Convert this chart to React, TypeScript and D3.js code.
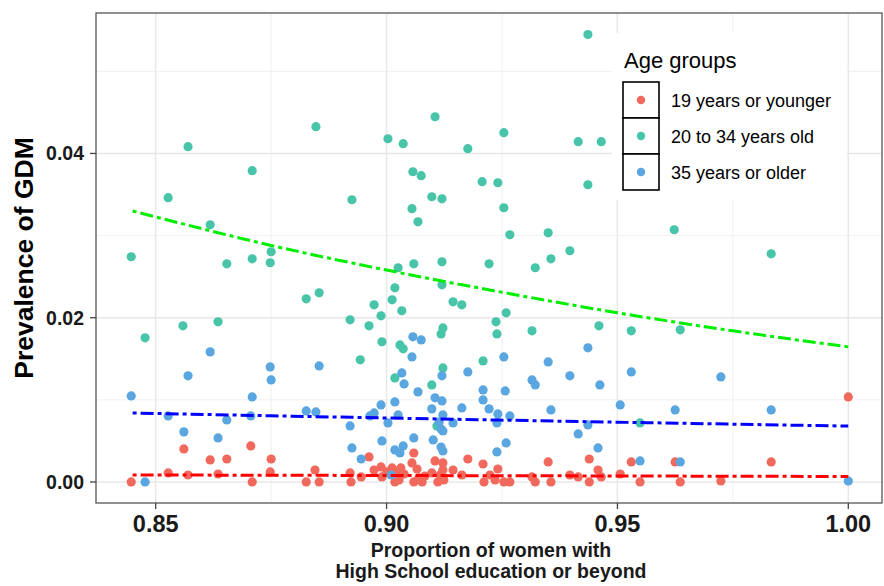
import { useMemo } from 'react';
import * as d3 from 'd3';

// proportion of women with high school education, prevalence of GDM
const age19: [number, number][] = [
  [0.8447, 0], [0.8527, 0.0011], [0.8561, 0.00402], [0.857, 0.00085], [0.8618, 0.00268],
  [0.8635, 0.00097], [0.8654, 0.0028], [0.8706, 0.00439], [0.8709, 0], [0.875, 0.0028],
  [0.8748, 0.00122], [0.8826, 0], [0.8845, 0.00146], [0.8854, 0], [0.8921, 0.0011],
  [0.8923, 0], [0.8945, 0.00061], [0.8962, 0.00305], [0.8973, 0.00146], [0.8988, 0.00183],
  [0.899, 0.00061], [0.9001, 0.00122], [0.9012, 0.00171], [0.9018, 0], [0.9023, 0.00122],
  [0.9027, 0.00024], [0.9031, 0.00171], [0.9038, 0.00097], [0.9055, 0.00232], [0.9059, 0.00353],
  [0.9059, 0], [0.9066, 0.00158], [0.907, 0.00049], [0.9077, 0], [0.9083, 0.00073],
  [0.9098, 0.0011], [0.9105, 0.00256], [0.9111, 0], [0.9116, 0.00085], [0.9122, 0.00232],
  [0.9122, 0.00146], [0.9124, 0.00024], [0.9144, 0.00146], [0.9163, 0.00085], [0.9176, 0.0028],
  [0.9209, 0.00219], [0.9211, 0], [0.9224, 0.00085], [0.9235, 0.00024], [0.9241, 0.00158],
  [0.9254, 0], [0.9267, 0], [0.9315, 0.00061], [0.9322, 0], [0.935, 0.00244],
  [0.9356, 0], [0.9397, 0.00085], [0.9415, 0.00061], [0.9439, 0.0028], [0.9439, 0],
  [0.9458, 0.00146], [0.9465, 0.00061], [0.9506, 0.00097], [0.953, 0.00244], [0.9549, 0],
  [0.9625, 0.00244], [0.9636, 0], [0.9724, 0.00012], [0.9833, 0.00244], [1.0, 0.01036],
];

const age2034: [number, number][] = [
  [0.8447, 0.02742], [0.8477, 0.01755], [0.8527, 0.03461], [0.8559, 0.01901], [0.857, 0.04082],
  [0.8618, 0.03132], [0.8635, 0.0195], [0.8654, 0.02656], [0.8709, 0.0379], [0.8709, 0.02717],
  [0.875, 0.02803], [0.8748, 0.02669], [0.8826, 0.0223], [0.8854, 0.02303], [0.8847, 0.04326],
  [0.8921, 0.01974], [0.8925, 0.03436], [0.8943, 0.01487], [0.8962, 0.01901], [0.8973, 0.02157],
  [0.8988, 0.02023], [0.899, 0.01706], [0.9003, 0.04179], [0.9012, 0.02218], [0.9018, 0.02364],
  [0.9018, 0.01267], [0.9025, 0.02608], [0.9029, 0.01669], [0.9033, 0.02084], [0.9036, 0.04119],
  [0.9036, 0.01621], [0.9055, 0.03327], [0.9057, 0.03777], [0.9059, 0.02656], [0.9068, 0.03168],
  [0.9075, 0.03729], [0.9098, 0.03473], [0.9098, 0.01182], [0.9105, 0.04447], [0.9109, 0.00682],
  [0.9118, 0.01803], [0.912, 0.03448], [0.912, 0.02681], [0.912, 0.024], [0.9122, 0.01876],
  [0.9122, 0.01389], [0.9144, 0.02193], [0.9163, 0.02157], [0.9176, 0.04058], [0.9207, 0.03656],
  [0.9209, 0.01474], [0.9222, 0.02656], [0.9237, 0.0195], [0.9239, 0.01803], [0.9241, 0.03643],
  [0.9254, 0.04253], [0.9254, 0.03339], [0.9259, 0.02059], [0.9267, 0.0301], [0.9315, 0.0184],
  [0.9322, 0.02608], [0.935, 0.03034], [0.9356, 0.02717], [0.9397, 0.02815], [0.9415, 0.04143],
  [0.9436, 0.05447], [0.9436, 0.03619], [0.946, 0.01901], [0.9465, 0.04143], [0.953, 0.0184],
  [0.9549, 0.00719], [0.9623, 0.03071], [0.9636, 0.01852], [0.9833, 0.02778],
];

const age35: [number, number][] = [
  [0.8447, 0.01048], [0.8477, 0], [0.8527, 0.00804], [0.8561, 0.0061], [0.857, 0.01292],
  [0.8618, 0.01584], [0.8635, 0.00536], [0.8654, 0.00755], [0.8709, 0.01036], [0.8706, 0.00804],
  [0.8748, 0.01401], [0.875, 0.01243], [0.8826, 0.00865], [0.8847, 0.00853], [0.8854, 0.01413],
  [0.8921, 0.00682], [0.8925, 0.00414], [0.8945, 0.0028], [0.8964, 0.00804], [0.8973, 0.00841],
  [0.8988, 0.00938], [0.899, 0.005], [0.9003, 0.00719], [0.901, 0.00085], [0.9018, 0.00975],
  [0.9018, 0.0039], [0.9025, 0.00816], [0.9029, 0.00353], [0.9033, 0.01328], [0.9036, 0.00439],
  [0.9038, 0.01194], [0.9055, 0.01523], [0.9057, 0.01767], [0.9059, 0.00536], [0.9068, 0.01097],
  [0.9075, 0.0173], [0.9098, 0.0089], [0.9101, 0.00512], [0.9105, 0.01024], [0.9114, 0.00731],
  [0.9118, 0.00646], [0.9118, 0.00426], [0.912, 0.01292], [0.912, 0.00987], [0.9122, 0.00816],
  [0.9122, 0.00621], [0.9122, 0.00378], [0.9144, 0.00719], [0.9163, 0.00902], [0.9176, 0.0134],
  [0.9209, 0.01121], [0.9209, 0.00999], [0.9222, 0.0089], [0.9239, 0.00719], [0.9239, 0.00366],
  [0.9241, 0.00829], [0.9254, 0.01523], [0.9257, 0.01109], [0.9259, 0.00475], [0.9267, 0.00804],
  [0.9315, 0.01243], [0.9322, 0.01182], [0.935, 0.01462], [0.9356, 0.00877], [0.9397, 0.01292],
  [0.9415, 0.00585], [0.9436, 0.01633], [0.9436, 0.00695], [0.9458, 0.00414], [0.9462, 0.01182],
  [0.9506, 0.00938], [0.953, 0.0134], [0.9549, 0.00256], [0.9625, 0.00877], [0.9636, 0.00244],
  [0.9724, 0.01279], [0.9833, 0.00877], [1.0, 0.00012],
];

// fitted trend lines
const trendX = [0.845, 0.875, 0.9, 0.925, 0.95, 0.975, 1.0];
const trend19 = [0.00085, 0.00082, 0.00079, 0.00076, 0.00073, 0.0007, 0.00067];
const trend2034 = [0.033, 0.0288, 0.0258, 0.0231, 0.0206, 0.0184, 0.01645];
const trend35 = [0.0084, 0.00806, 0.00779, 0.00753, 0.00728, 0.00704, 0.0068];

const xTicks = [0.85, 0.9, 0.95, 1.0];
const xMinor = [0.875, 0.925, 0.975];
const yTicks = [0, 0.02, 0.04];
const yMinor = [0.01, 0.03, 0.05];

const groups = ['19 years or younger', '20 to 34 years old', '35 years or older'];
const pointColors = ['#F0695C', '#48C4A9', '#5AA6E0'];
const lineColors = ['#FF0000', '#00EE00', '#0000FF'];

const W = 884;
const H = 586;
const margin = { top: 13, right: 2, bottom: 83, left: 96 };
const font = "'Liberation Sans', Arial, Helvetica, sans-serif";

export default function App() {
  const x = useMemo(
    () => d3.scaleLinear().domain([0.83707, 1.0073]).range([margin.left, W - margin.right]),
    []
  );
  const y = useMemo(
    () => d3.scaleLinear().domain([-0.00256, 0.0571]).range([H - margin.bottom, margin.top]),
    []
  );

  const series = [age19, age2034, age35];
  const trends = [trend19, trend2034, trend35];
  const line = d3
    .line<number>()
    .x((_, i) => x(trendX[i]))
    .y((d) => y(d))
    .curve(d3.curveMonotoneX);

  const left = margin.left;
  const right = W - margin.right;
  const top = margin.top;
  const bottom = H - margin.bottom;

  return (
    <svg
      width={W}
      height={H}
      style={{ position: 'absolute', left: 0, top: 0, background: '#fff' }}
      fontFamily={font}
    >
      <rect x={0} y={0} width={W} height={H} fill="#fff" />
      {/* grid */}
      <g>
        {xMinor.map((t) => (
          <line key={'xm' + t} x1={x(t)} x2={x(t)} y1={top} y2={bottom} stroke="#f0f0f0" strokeWidth={1} />
        ))}
        {yMinor.map((t) => (
          <line key={'ym' + t} x1={left} x2={right} y1={y(t)} y2={y(t)} stroke="#f0f0f0" strokeWidth={1} />
        ))}
        {xTicks.map((t) => (
          <line key={'xg' + t} x1={x(t)} x2={x(t)} y1={top} y2={bottom} stroke="#e8e8e8" strokeWidth={1.5} />
        ))}
        {yTicks.map((t) => (
          <line key={'yg' + t} x1={left} x2={right} y1={y(t)} y2={y(t)} stroke="#e8e8e8" strokeWidth={1.5} />
        ))}
      </g>

      {/* points */}
      {series.map((pts, gi) => (
        <g key={'s' + gi} fill={pointColors[gi]}>
          {pts.map((p, i) => (
            <circle key={i} cx={x(p[0])} cy={y(p[1])} r={4.6} />
          ))}
        </g>
      ))}

      {/* trend lines */}
      {trends.map((t, gi) => (
        <path
          key={'t' + gi}
          d={line(t) || ''}
          fill="none"
          stroke={lineColors[gi]}
          strokeWidth={3}
          strokeDasharray="4,4,13,4"
        />
      ))}

      {/* legend */}
      <g>
        <rect x={612} y={33} width={235} height={167} fill="#fff" />
        <text x={624} y={68} fontSize={22} fill="#000">
          Age groups
        </text>
        {groups.map((g, i) => (
          <g key={g}>
            <rect x={623} y={82 + i * 36} width={36} height={36} fill="#fff" stroke="#000" strokeWidth={1.6} />
            <circle cx={641} cy={100 + i * 36} r={4.2} fill={pointColors[i]} />
            <text x={671} y={106.5 + i * 36} fontSize={18} fill="#000">
              {g}
            </text>
          </g>
        ))}
      </g>

      {/* panel border */}
      <rect x={left} y={top} width={right - left} height={bottom - top} fill="none" stroke="#555" strokeWidth={1.3} />

      {/* axes */}
      <g>
        {xTicks.map((t) => (
          <g key={'xt' + t}>
            <line x1={x(t)} x2={x(t)} y1={bottom} y2={bottom + 6} stroke="#444" strokeWidth={1.3} />
            <text x={x(t)} y={532} textAnchor="middle" fontSize={23.5} fontWeight="bold" fill="#1a1a1a">
              {d3.format('.2f')(t)}
            </text>
          </g>
        ))}
        {yTicks.map((t) => (
          <g key={'yt' + t}>
            <line x1={left - 6} x2={left} y1={y(t)} y2={y(t)} stroke="#444" strokeWidth={1.3} />
            <text x={84} y={y(t)} dy="0.36em" textAnchor="end" fontSize={19.5} fontWeight="bold" fill="#1a1a1a">
              {d3.format('.2f')(t)}
            </text>
          </g>
        ))}
      </g>

      {/* axis titles */}
      <text
        transform={`translate(33,${(top + bottom) / 2}) rotate(-90)`}
        textAnchor="middle"
        fontSize={26.5}
        fontWeight="bold"
        fill="#000"
      >
        Prevalence of GDM
      </text>
      <text x={(left + right) / 2 + 2} y={557} textAnchor="middle" fontSize={19.5} fontWeight="bold" fill="#1a1a1a">
        Proportion of women with
      </text>
      <text x={(left + right) / 2 + 2} y={578} textAnchor="middle" fontSize={19.5} fontWeight="bold" fill="#1a1a1a">
        High School education or beyond
      </text>
    </svg>
  );
}
